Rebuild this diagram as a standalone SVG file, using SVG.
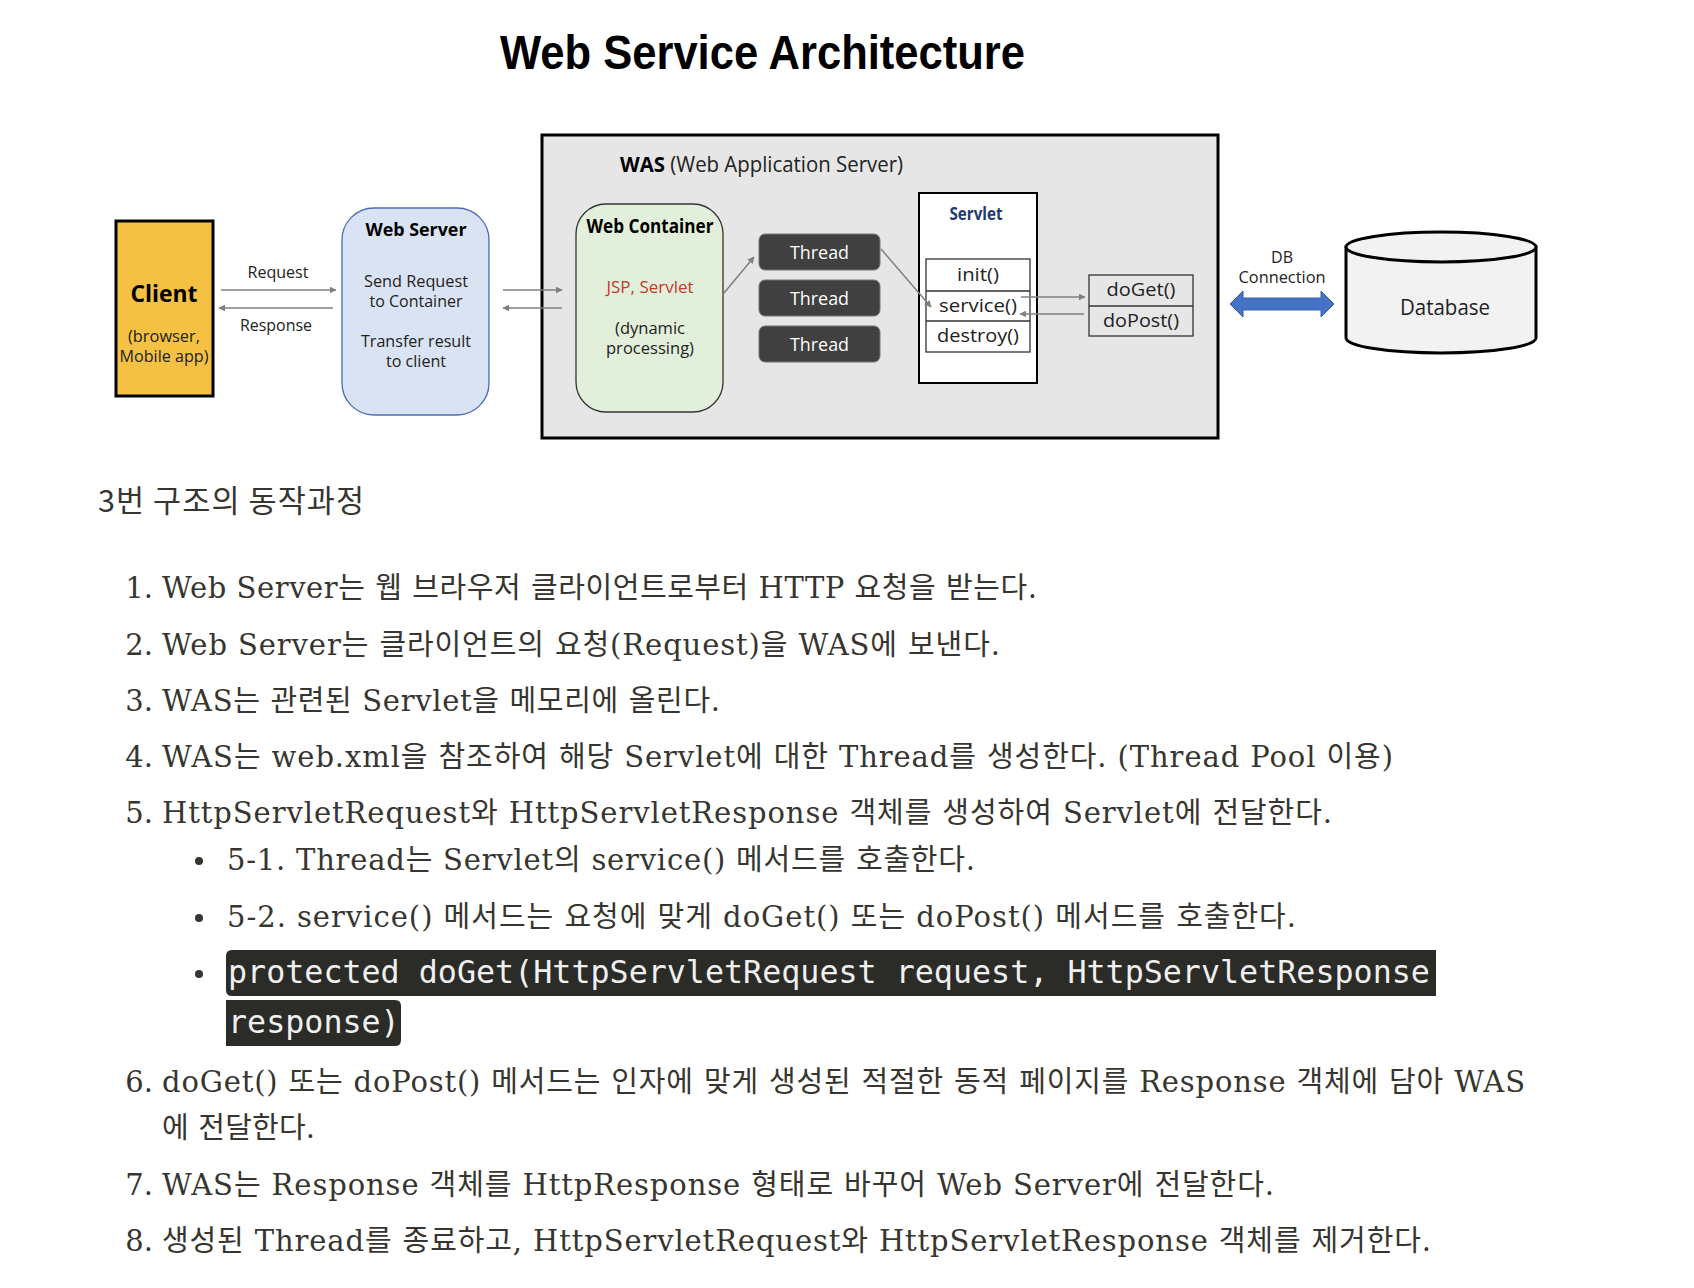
<svg xmlns="http://www.w3.org/2000/svg" width="1694" height="1288" viewBox="0 0 1694 1288">
<defs>
<style>
.lbl{font-family:'Open Sans','Noto Sans',sans-serif;fill:#222;}
.b{font-weight:bold;fill:#000;}
.body{font-family:'DejaVu Serif','Noto Sans CJK KR',serif;font-size:29px;fill:#37352f;}
.num{font-family:'DejaVu Serif','Noto Sans CJK KR',serif;font-size:29px;fill:#37352f;text-anchor:end;}
.code{font-family:'DejaVu Sans Mono','Liberation Mono',monospace;font-size:31.7px;fill:#f0f0f0;}
.conn{stroke:#808080;stroke-width:1.5;fill:none;marker-end:url(#ah);}
.box{stroke:#333;stroke-width:1.3;}
</style>
<marker id="ah" viewBox="0 0 10 10" refX="9" refY="5" markerWidth="7" markerHeight="7" markerUnits="userSpaceOnUse" orient="auto">
<path d="M0,0 L10,5 L0,10 z" fill="#808080"/>
</marker>
</defs>
<rect width="1694" height="1288" fill="#ffffff"/>

<g id="title">
<text x="500" y="69" font-family="'Liberation Sans',Arial,sans-serif" font-weight="bold" font-size="48" fill="#000" textLength="525" lengthAdjust="spacingAndGlyphs">Web Service Architecture</text>
</g>

<g id="was">
<rect x="542" y="135" width="676" height="303" fill="#e6e6e6" stroke="#000" stroke-width="3"/>
<text x="620" y="172" class="lbl" font-size="21" textLength="283" lengthAdjust="spacingAndGlyphs"><tspan font-weight="bold" fill="#000">WAS</tspan> (Web Application Server)</text>
</g>

<g id="client">
<rect x="116" y="221" width="97" height="175" fill="#f4c143" stroke="#000" stroke-width="3"/>
<text x="164" y="302" class="lbl b" font-size="24" text-anchor="middle" textLength="67" lengthAdjust="spacingAndGlyphs">Client</text>
<text x="164" y="342" class="lbl" font-size="16.5" text-anchor="middle" textLength="72" lengthAdjust="spacingAndGlyphs">(browser,</text>
<text x="164" y="362" class="lbl" font-size="16.5" text-anchor="middle" textLength="89" lengthAdjust="spacingAndGlyphs">Mobile app)</text>
</g>

<g id="webserver">
<rect x="342" y="208" width="147" height="207" rx="32" ry="32" fill="#dae3f3" stroke="#4a6db4" stroke-width="1.3"/>
<text x="416" y="236" class="lbl b" font-size="18.5" text-anchor="middle" textLength="101" lengthAdjust="spacingAndGlyphs">Web Server</text>
<text x="416" y="287" class="lbl" font-size="16.5" text-anchor="middle" textLength="104" lengthAdjust="spacingAndGlyphs">Send Request</text>
<text x="416" y="307" class="lbl" font-size="16.5" text-anchor="middle" textLength="93" lengthAdjust="spacingAndGlyphs">to Container</text>
<text x="416" y="347" class="lbl" font-size="16.5" text-anchor="middle" textLength="110" lengthAdjust="spacingAndGlyphs">Transfer result</text>
<text x="416" y="367" class="lbl" font-size="16.5" text-anchor="middle" textLength="60" lengthAdjust="spacingAndGlyphs">to client</text>
</g>

<g id="webcontainer">
<rect x="576" y="204" width="147" height="208" rx="30" ry="30" fill="#e2efda" stroke="#333" stroke-width="1.3"/>
<text x="650" y="233" class="lbl b" font-size="19" text-anchor="middle" textLength="127" lengthAdjust="spacingAndGlyphs">Web Container</text>
<text x="650" y="293" class="lbl" font-size="17" style="fill:#c0392b" text-anchor="middle" textLength="87" lengthAdjust="spacingAndGlyphs">JSP, Servlet</text>
<text x="650" y="334" class="lbl" font-size="16.5" text-anchor="middle" textLength="70" lengthAdjust="spacingAndGlyphs">(dynamic</text>
<text x="650" y="354" class="lbl" font-size="16.5" text-anchor="middle" textLength="88" lengthAdjust="spacingAndGlyphs">processing)</text>
</g>

<g id="thread1">
<rect x="759" y="234" width="121" height="36" rx="6" fill="#404040" stroke="#777" stroke-width="1"/>
<text x="819.5" y="258.5" class="lbl" font-size="18.5" style="fill:#fff" text-anchor="middle" textLength="59" lengthAdjust="spacingAndGlyphs">Thread</text>
</g>
<g id="thread2">
<rect x="759" y="280" width="121" height="36" rx="6" fill="#404040" stroke="#777" stroke-width="1"/>
<text x="819.5" y="304.5" class="lbl" font-size="18.5" style="fill:#fff" text-anchor="middle" textLength="59" lengthAdjust="spacingAndGlyphs">Thread</text>
</g>
<g id="thread3">
<rect x="759" y="326" width="121" height="36" rx="6" fill="#404040" stroke="#777" stroke-width="1"/>
<text x="819.5" y="350.5" class="lbl" font-size="18.5" style="fill:#fff" text-anchor="middle" textLength="59" lengthAdjust="spacingAndGlyphs">Thread</text>
</g>

<g id="servlet">
<rect x="919" y="193" width="118" height="190" fill="#ffffff" stroke="#000" stroke-width="2"/>
<text x="976" y="220" class="lbl" font-size="18" font-weight="bold" style="fill:#1f3a6e" text-anchor="middle" textLength="53" lengthAdjust="spacingAndGlyphs">Servlet</text>
<rect x="926" y="259" width="104" height="93" fill="#ffffff" class="box"/>
<line x1="926" y1="291" x2="1030" y2="291" class="box"/>
<line x1="926" y1="321" x2="1030" y2="321" class="box"/>
<text x="978" y="281" class="lbl" font-size="18" text-anchor="middle" textLength="42" lengthAdjust="spacingAndGlyphs">init()</text>
<text x="978" y="312" class="lbl" font-size="18" text-anchor="middle" textLength="78" lengthAdjust="spacingAndGlyphs">service()</text>
<text x="978" y="342" class="lbl" font-size="18" text-anchor="middle" textLength="82" lengthAdjust="spacingAndGlyphs">destroy()</text>
</g>

<g id="methods">
<rect x="1089" y="275" width="104" height="61" fill="#e6e6e6" class="box"/>
<line x1="1089" y1="306" x2="1193" y2="306" class="box"/>
<text x="1141" y="296" class="lbl" font-size="18" text-anchor="middle" textLength="69" lengthAdjust="spacingAndGlyphs">doGet()</text>
<text x="1141" y="327" class="lbl" font-size="18" text-anchor="middle" textLength="76" lengthAdjust="spacingAndGlyphs">doPost()</text>
</g>

<g id="database">
<path d="M1346,247 L1346,338 A95,15 0 0 0 1536,338 L1536,247 Z" fill="#f2f2f2" stroke="#000" stroke-width="3"/>
<ellipse cx="1441" cy="247" rx="95" ry="15" fill="#f2f2f2" stroke="#000" stroke-width="3"/>
<text x="1445" y="315" class="lbl" font-size="21" text-anchor="middle" textLength="90" lengthAdjust="spacingAndGlyphs">Database</text>
</g>

<g id="connectors">
<line x1="221" y1="290" x2="336" y2="290" class="conn"/>
<line x1="333" y1="308" x2="219" y2="308" class="conn"/>
<line x1="503" y1="290" x2="562" y2="290" class="conn"/>
<line x1="562" y1="308" x2="503" y2="308" class="conn"/>
<line x1="724" y1="293" x2="754" y2="257" class="conn"/>
<line x1="881" y1="249" x2="931" y2="307" class="conn"/>
<line x1="1021" y1="297" x2="1085" y2="297" class="conn"/>
<line x1="1084" y1="314" x2="1020" y2="314" class="conn"/>
<polygon points="1230,304 1243,291 1243,298 1321,298 1321,291 1334,304 1321,317 1321,310 1243,310 1243,317" fill="#4472c4" stroke="#3a62a8" stroke-width="1"/>
<text x="278" y="278" class="lbl" font-size="16.5" text-anchor="middle" textLength="61" lengthAdjust="spacingAndGlyphs">Request</text>
<text x="276" y="331" class="lbl" font-size="16.5" text-anchor="middle" textLength="72" lengthAdjust="spacingAndGlyphs">Response</text>
<text x="1282" y="263" class="lbl" font-size="16.5" text-anchor="middle" textLength="22" lengthAdjust="spacingAndGlyphs">DB</text>
<text x="1282" y="283" class="lbl" font-size="16.5" text-anchor="middle" textLength="87" lengthAdjust="spacingAndGlyphs">Connection</text>
</g>

<g id="notes">
<text x="98" y="512" font-family="'Noto Sans CJK KR','Noto Sans',sans-serif" font-size="30.5" fill="#37352f" textLength="266" lengthAdjust="spacing">3번 구조의 동작과정</text>

<text x="153" y="598" class="num">1.</text>
<text x="162" y="598" class="body" textLength="875" lengthAdjust="spacing">Web Server는 웹 브라우저 클라이언트로부터 HTTP 요청을 받는다.</text>
<text x="153" y="655" class="num">2.</text>
<text x="162" y="655" class="body" textLength="838" lengthAdjust="spacing">Web Server는 클라이언트의 요청(Request)을 WAS에 보낸다.</text>
<text x="153" y="711" class="num">3.</text>
<text x="162" y="711" class="body" textLength="558" lengthAdjust="spacing">WAS는 관련된 Servlet을 메모리에 올린다.</text>
<text x="153" y="767" class="num">4.</text>
<text x="162" y="767" class="body" textLength="1231" lengthAdjust="spacing">WAS는 web.xml을 참조하여 해당 Servlet에 대한 Thread를 생성한다. (Thread Pool 이용)</text>
<text x="153" y="823" class="num">5.</text>
<text x="162" y="823" class="body" textLength="1170" lengthAdjust="spacing">HttpServletRequest와 HttpServletResponse 객체를 생성하여 Servlet에 전달한다.</text>

<circle cx="199" cy="861" r="4" fill="#37352f"/>
<text x="227" y="870" class="body" textLength="748" lengthAdjust="spacing">5-1. Thread는 Servlet의 service() 메서드를 호출한다.</text>
<circle cx="199" cy="918" r="4" fill="#37352f"/>
<text x="227" y="927" class="body" textLength="1069" lengthAdjust="spacing">5-2. service() 메서드는 요청에 맞게 doGet() 또는 doPost() 메서드를 호출한다.</text>
<circle cx="199" cy="974" r="4" fill="#37352f"/>
<path d="M232,950 H1436 V996 H232 Q226,996 226,990 V956 Q226,950 232,950 Z" fill="#2b2b27"/>
<path d="M226,1000 H395 Q401,1000 401,1006 V1040 Q401,1046 395,1046 H226 Z" fill="#2b2b27"/>
<text x="228" y="983" class="code">protected doGet(HttpServletRequest request, HttpServletResponse</text>
<text x="228" y="1033" class="code">response)</text>

<text x="153" y="1092" class="num">6.</text>
<text x="162" y="1092" class="body" textLength="1363" lengthAdjust="spacing">doGet() 또는 doPost() 메서드는 인자에 맞게 생성된 적절한 동적 페이지를 Response 객체에 담아 WAS</text>
<text x="162" y="1138" class="body" textLength="153" lengthAdjust="spacing">에 전달한다.</text>
<text x="153" y="1195" class="num">7.</text>
<text x="162" y="1195" class="body" textLength="1112" lengthAdjust="spacing">WAS는 Response 객체를 HttpResponse 형태로 바꾸어 Web Server에 전달한다.</text>
<text x="153" y="1251" class="num">8.</text>
<text x="162" y="1251" class="body" textLength="1269" lengthAdjust="spacing">생성된 Thread를 종료하고, HttpServletRequest와 HttpServletResponse 객체를 제거한다.</text>
</g>
</svg>
